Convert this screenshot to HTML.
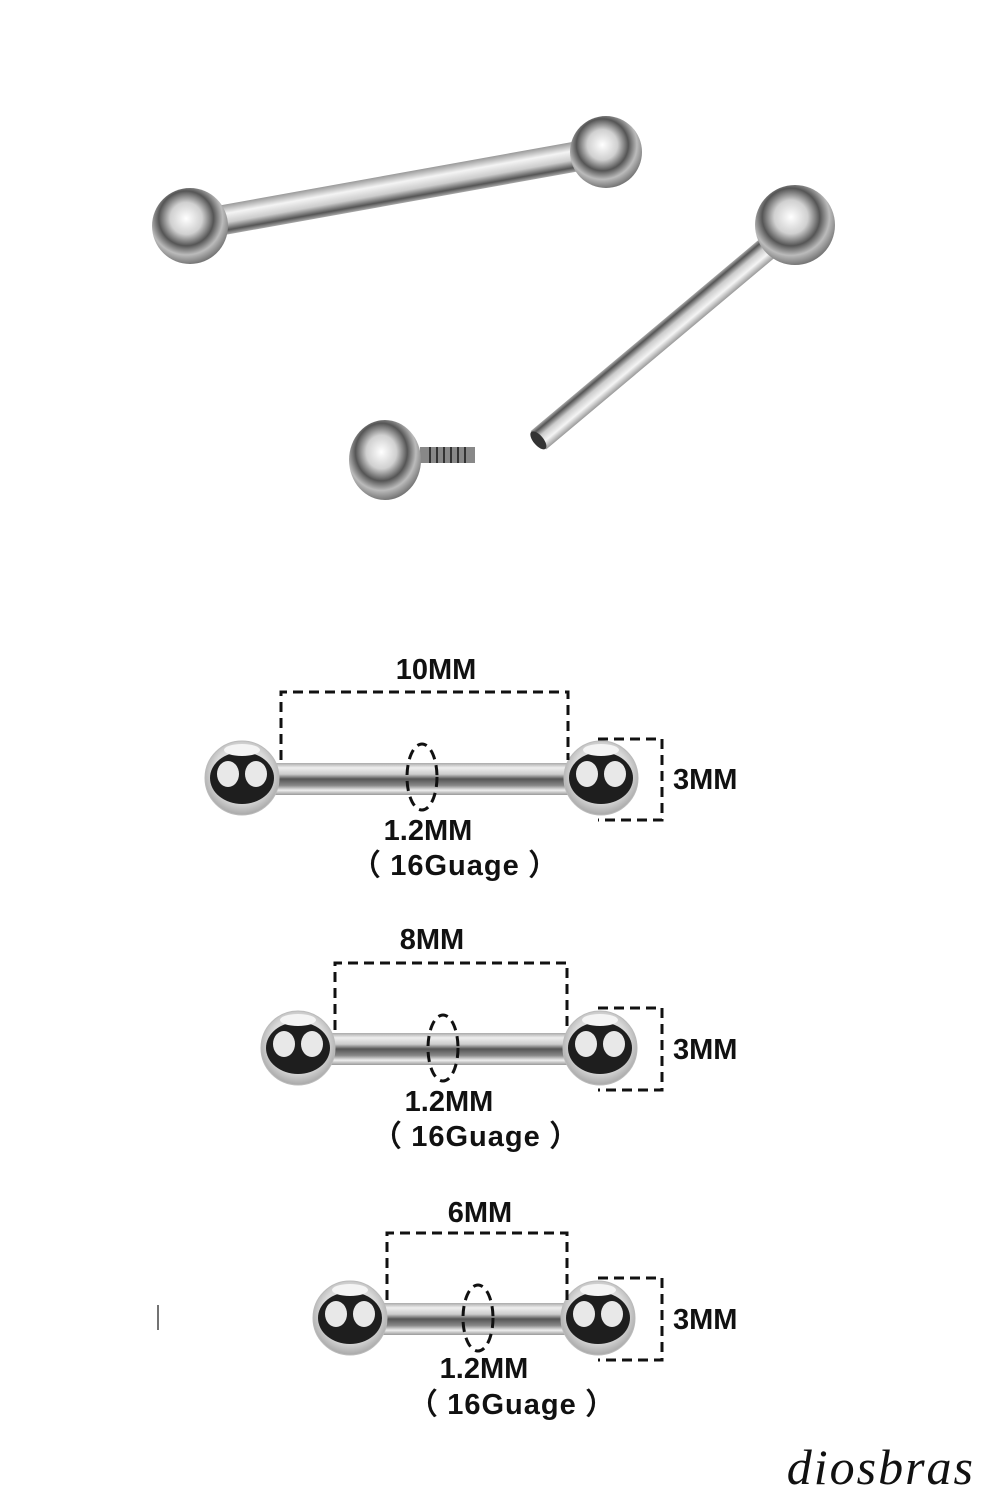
<!DOCTYPE html>
<html><head><meta charset="utf-8"><style>
html,body{margin:0;padding:0;background:#fff;}
svg{display:block;}
text{font-family:"Liberation Sans",sans-serif;font-weight:bold;fill:#111;}
</style></head><body>
<svg width="1000" height="1500" viewBox="0 0 1000 1500" xmlns="http://www.w3.org/2000/svg">
<defs>
<radialGradient id="ball" cx="0.5" cy="0.45" r="0.55">
<stop offset="0" stop-color="#f8f8f8"/><stop offset="0.7" stop-color="#d9d9d9"/><stop offset="1" stop-color="#a8a8a8"/>
</radialGradient>
<linearGradient id="bar" x1="0" y1="0" x2="0" y2="1">
<stop offset="0" stop-color="#aaa"/><stop offset="0.15" stop-color="#eee"/><stop offset="0.35" stop-color="#ccc"/><stop offset="0.5" stop-color="#555"/><stop offset="0.7" stop-color="#888"/><stop offset="0.85" stop-color="#eee"/><stop offset="1" stop-color="#999"/>
</linearGradient>
<linearGradient id="pbar" x1="0" y1="0" x2="0" y2="1">
<stop offset="0" stop-color="#999"/><stop offset="0.3" stop-color="#f4f4f4"/><stop offset="0.6" stop-color="#ccc"/><stop offset="0.85" stop-color="#555"/><stop offset="1" stop-color="#aaa"/>
</linearGradient>
<radialGradient id="pball" cx="0.45" cy="0.4" r="0.6">
<stop offset="0" stop-color="#fff"/><stop offset="0.35" stop-color="#d0d0d0"/><stop offset="0.6" stop-color="#555"/><stop offset="0.8" stop-color="#bbb"/><stop offset="1" stop-color="#777"/>
</radialGradient>
<g id="b">
<circle r="37" fill="url(#ball)" stroke="#bbb" stroke-width="1"/>
<ellipse cx="0" cy="0" rx="32" ry="26" fill="#1e1e1e"/>
<ellipse cx="-14" cy="-4" rx="11" ry="13" fill="#e8e8e8"/>
<ellipse cx="14" cy="-4" rx="11" ry="13" fill="#e8e8e8"/>
<ellipse cx="0" cy="-28" rx="18" ry="6" fill="#f4f4f4"/>
</g>
</defs>

<!-- photo: barbell 1 -->
<g transform="translate(190,226) rotate(-10.2)">
<rect x="0" y="-15" width="423" height="30" fill="url(#pbar)"/>
</g>
<circle cx="190" cy="226" r="38" fill="url(#pball)"/>
<circle cx="606" cy="152" r="36" fill="url(#pball)"/>
<!-- barbell 2 -->
<g transform="translate(795,225) rotate(140)">
<rect x="0" y="-12" width="335" height="24" fill="url(#pbar)"/>
<ellipse cx="335" cy="0" rx="5" ry="11" fill="#333"/>
</g>
<circle cx="795" cy="225" r="40" fill="url(#pball)"/>
<!-- loose ball -->
<rect x="420" y="447" width="55" height="16" fill="#888"/>
<path d="M430 447v16M437 447v16M444 447v16M451 447v16M458 447v16M465 447v16" stroke="#333" stroke-width="2"/>
<ellipse cx="385" cy="460" rx="36" ry="40" fill="url(#pball)"/>

<!-- diagram 1 -->
<rect x="270" y="763" width="310" height="32" fill="url(#bar)"/>
<use href="#b" x="242" y="778"/>
<use href="#b" x="601" y="778"/>
<g fill="none" stroke="#111" stroke-width="3" stroke-dasharray="10,6">
<path d="M281 760V692H568V760"/>
<path d="M598 739H662V820H598"/>
<ellipse cx="422" cy="777" rx="15" ry="33"/>
</g>
<text x="436" y="679" font-size="29" text-anchor="middle">10MM</text>
<text x="673" y="789" font-size="29">3MM</text>
<text x="428" y="840" font-size="29" text-anchor="middle">1.2MM</text>
<text x="455" y="875" font-size="29" text-anchor="middle" letter-spacing="1">（ 16Guage ）</text>

<!-- diagram 2 -->
<rect x="325" y="1033" width="255" height="32" fill="url(#bar)"/>
<use href="#b" x="298" y="1048"/>
<use href="#b" x="600" y="1048"/>
<g fill="none" stroke="#111" stroke-width="3" stroke-dasharray="10,6">
<path d="M335 1030V963H567V1030"/>
<path d="M598 1008H662V1090H598"/>
<ellipse cx="443" cy="1048" rx="15" ry="33"/>
</g>
<text x="432" y="949" font-size="29" text-anchor="middle">8MM</text>
<text x="673" y="1059" font-size="29">3MM</text>
<text x="449" y="1111" font-size="29" text-anchor="middle">1.2MM</text>
<text x="476" y="1146" font-size="29" text-anchor="middle" letter-spacing="1">（ 16Guage ）</text>

<!-- diagram 3 -->
<rect x="375" y="1303" width="200" height="32" fill="url(#bar)"/>
<use href="#b" x="350" y="1318"/>
<use href="#b" x="598" y="1318"/>
<g fill="none" stroke="#111" stroke-width="3" stroke-dasharray="10,6">
<path d="M387 1300V1233H567V1300"/>
<path d="M598 1278H662V1360H598"/>
<ellipse cx="478" cy="1318" rx="15" ry="33"/>
</g>
<text x="480" y="1222" font-size="29" text-anchor="middle">6MM</text>
<text x="673" y="1329" font-size="29">3MM</text>
<text x="484" y="1378" font-size="29" text-anchor="middle">1.2MM</text>
<text x="512" y="1414" font-size="29" text-anchor="middle" letter-spacing="1">（ 16Guage ）</text>
<line x1="158" y1="1305" x2="158" y2="1330" stroke="#444" stroke-width="1.5"/>

<text x="975" y="1484" font-size="50" text-anchor="end" style="font-family:'Liberation Serif',serif;font-style:italic;font-weight:normal;letter-spacing:2px">diosbras</text>
</svg>
</body></html>
